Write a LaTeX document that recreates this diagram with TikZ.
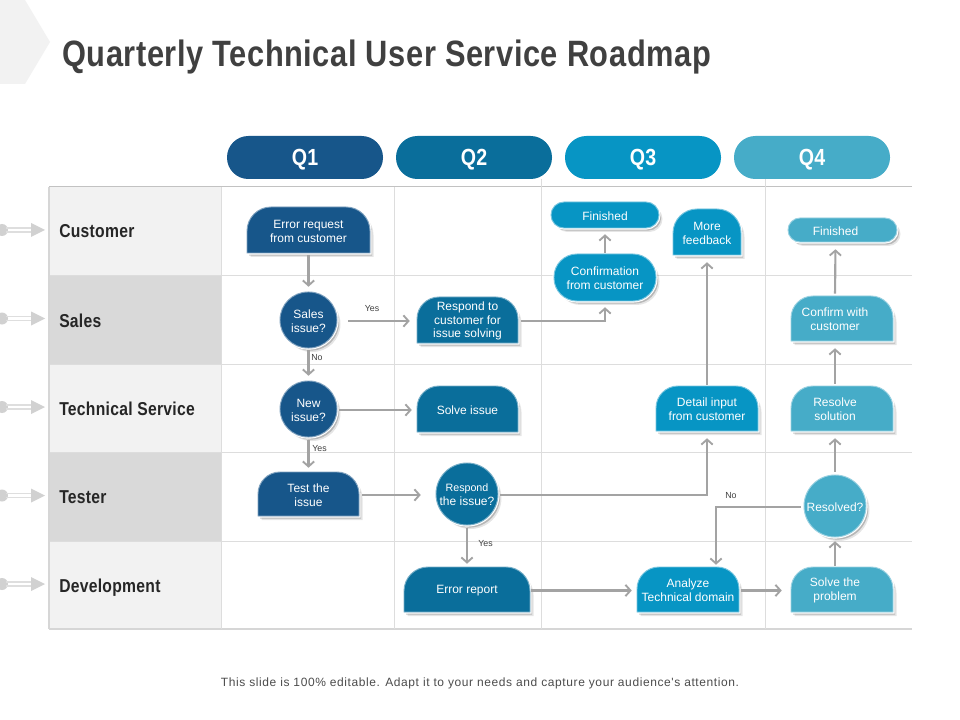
\documentclass[tikz,border=0pt]{standalone}
\usepackage{fontspec}
\setmainfont{Liberation Sans}
\newfontfamily\condf[FakeStretch=0.84,LetterSpace=1.5]{Liberation Sans}
\newfontfamily\footf[LetterSpace=5]{Liberation Sans}
\usetikzlibrary{arrows.meta,calc}
\definecolor{qa}{HTML}{17568A}
\definecolor{qb}{HTML}{0A6E9B}
\definecolor{qc}{HTML}{0795C4}
\definecolor{qd}{HTML}{46ACC8}
\definecolor{gridc}{HTML}{DDDDDD}
\definecolor{conc}{HTML}{A3A3A3}
\tikzset{
  x=0.75pt,y=-0.75pt,
  conn/.style={draw=conc,line width=1.6pt,-{Straight Barb[length=3.8pt,width=8.5pt,line width=1.4pt]}},
  gap/.style={shorten >=#1*0.75pt},
  sgap/.style={shorten <=#1*0.75pt},
  gridl/.style={draw=gridc,line width=0.75pt},
  celltxt/.style={text=white,font=\fontsize{9}{10.4}\selectfont,align=center,inner sep=0pt,yshift=-0.75pt},
  smalltxt/.style={text=black!75,font=\fontsize{6.6}{8}\selectfont,inner sep=0pt},
  rowtxt/.style={anchor=base west,text=black!85,font=\condf\bfseries\fontsize{14}{16}\selectfont,inner sep=0pt},
  qtxt/.style={anchor=base,text=white,font=\condf\bfseries\fontsize{17.5}{20}\selectfont,inner sep=0pt},
}
\def\tdx{0}
% name, x1,y1,x2,y2, top radius, bottom radius, colour, text
\newcommand{\flowshape}[9]{%
  \pgfmathsetmacro{\flcy}{(#3+#5)/2}%
  \pgfmathsetmacro{\flcx}{(#2+#4)/2}%
  \pgfmathsetmacro{\flnx}{\flcx+\tdx}%
  \pgfmathsetmacro{\flwd}{(#4-#2)*0.75}%
  \pgfmathsetmacro{\flhg}{(#5-#3)*0.75}%
  \def\flowpath{(#2,#5-#7) -- (#2,#3+#6)
    .. controls (#2,#3+0.4477*#6) and (#2+0.4477*#6,#3) .. (#2+#6,#3)
    -- (#4-#6,#3)
    .. controls (#4-0.4477*#6,#3) and (#4,#3+0.4477*#6) .. (#4,#3+#6)
    -- (#4,#5-#7)
    .. controls (#4,#5-0.4477*#7) and (#4-0.4477*#7,#5) .. (#4-#7,#5)
    -- (#2+#7,#5)
    .. controls (#2+0.4477*#7,#5) and (#2,#5-0.4477*#7) .. (#2,#5-#7) -- cycle}%
  \begin{scope}[shift={(3.5,4)}]\fill[black,opacity=0.10]\flowpath;\end{scope}%
  \begin{scope}[shift={(2.2,2.6)}]\fill[black,opacity=0.20]\flowpath;\end{scope}%
  \draw[white,line width=2.4pt,fill=white]\flowpath;%
  \draw[#8!55!white,line width=0.7pt,fill=#8]\flowpath;%
  \node[celltxt,minimum width=\flwd pt,minimum height=\flhg pt] (#1) at (\flnx,\flcy) {#9};%
}
\begin{document}
\begin{tikzpicture}
\useasboundingbox (0,0) rectangle (960,720);
\fill[white] (0,0) rectangle (960,720);
% corner tab
\fill[black!5] (0,0) -- (25,0) -- (50,42) -- (25,84) -- (0,84) -- cycle;
\node[anchor=base west,inner sep=0pt,text=black!75,font=\condf\bfseries\fontsize{27.5}{30}\selectfont] (title) at (62,67) {Quarterly Technical User Service Roadmap};
% rows
\fill[black!5]  (49,187) rectangle (221,276);
\fill[black!15] (49,276) rectangle (221,364);
\fill[black!5]  (49,364) rectangle (221,452);
\fill[black!15] (49,452) rectangle (221,541);
\fill[black!5]  (49,541) rectangle (221,629);
\foreach \yy in {276,364,452,541}{\draw[gridl] (49,\yy) -- (912,\yy);}
\draw[draw=black!24,line width=0.75pt] (49,187) -- (912,187);
\draw[draw=black!16,line width=1.1pt] (49,629) -- (912,629);
\draw[draw=black!16,line width=0.9pt] (49,187) -- (49,629);
\draw[gridl] (221,187) -- (221,629);
\draw[gridl] (394,187) -- (394,629);
\draw[gridl] (541,179) -- (541,629);
\draw[gridl] (765,179) -- (765,629);
% side markers
\foreach \yy in {230,318.5,407,495.5,584}{
  \fill[black!18] (2,\yy) circle[radius=6];
  \draw[black!13,line width=0.9pt] (6,\yy-2) -- (32,\yy-2);
  \draw[black!13,line width=0.9pt] (6,\yy+2) -- (32,\yy+2);
  \fill[black!18] (31,\yy-7) -- (45,\yy) -- (31,\yy+7) -- cycle;
}
\node[rowtxt] (r1) at (59,238) {Customer};
\node[rowtxt] (r2) at (59,327) {Sales};
\node[rowtxt] (r3) at (59,415) {Technical Service};
\node[rowtxt] (r4) at (59,503) {Tester};
\node[rowtxt] (r5) at (59,592) {Development};
% quarter pills
\fill[qa,rounded corners=16pt] (227,136) rectangle (383,179);
\fill[qb,rounded corners=16pt] (396,136) rectangle (552,179);
\fill[qc,rounded corners=16pt] (565,136) rectangle (721,179);
\fill[qd,rounded corners=16pt] (734,136) rectangle (890,179);
\node[qtxt] (q1) at (305,166) {Q1};
\node[qtxt] (q2) at (474,166) {Q2};
\node[qtxt] (q3) at (643,166) {Q3};
\node[qtxt] (q4) at (812,166) {Q4};
% flow shapes
\flowshape{err}{247}{207}{370}{253}{24}{0}{qa}{Error request\\from customer}
\flowshape{sal}{280}{292}{337}{348}{28}{28}{qa}{Sales\\issue?}
\flowshape{new}{280}{381}{337}{437}{28}{28}{qa}{New\\issue?}
\flowshape{tst}{258}{472}{359}{516}{22}{0}{qa}{Test the\\issue}
\flowshape{rsp}{417}{297}{518}{343}{22}{0}{qb}{Respond to\\customer for\\issue solving}
\flowshape{sol}{417}{386}{518}{432}{22}{0}{qb}{Solve issue}
\flowshape{rsi}{436}{463}{498}{525}{31}{31}{qb}{\fontsize{8}{9.6}\selectfont Respond\\the issue?}
\flowshape{rep}{404}{567}{530}{612}{24}{0}{qb}{Error report}
\flowshape{fin}{551}{202}{659}{228}{13}{13}{qc}{Finished}
\flowshape{cnf}{554}{254}{656}{301}{23}{23}{qc}{Confirmation\\from customer}
\flowshape{mor}{673}{209}{741}{255}{24}{0}{qc}{More\\feedback}
\flowshape{det}{656}{386}{758}{431}{22}{0}{qc}{Detail input\\from customer}
\flowshape{ana}{637}{567}{739}{612}{22}{0}{qc}{Analyze\\Technical domain}
\flowshape{rsd}{804}{475}{866}{537}{31}{31}{qd}{Resolved?}
\def\tdx{-7}
\flowshape{fiq}{788}{218}{897}{242}{12}{12}{qd}{Finished}
\flowshape{cfm}{791}{296}{893}{341}{22}{0}{qd}{Confirm with\\customer}
\flowshape{rsv}{791}{386}{893}{431}{22}{0}{qd}{Resolve\\solution}
\flowshape{slv}{791}{567}{893}{612}{22}{0}{qd}{Solve the\\problem}
\def\tdx{0}
% connectors
\draw[conn,sgap=1,gap=6] (err.south) -- (sal.north);
\draw[conn,sgap=11,gap=7] (sal.east) -- (rsp.west);
\draw[conn,sgap=1,gap=6] (sal.south) -- (new.north);
\draw[conn,sgap=2,gap=5] (new.east) -- (sol.west);
\draw[conn,sgap=2,gap=5] (new.south) -- (tst.north);
\draw[conn,sgap=3,gap=15] (tst.east) -- (rsi.west);
\draw[conn,sgap=2,gap=4] (rsi.south) -- (rep.north);
\draw[conn,sgap=2,gap=6] (rsi.east) -| (det.south);
\draw[conn,sgap=3,gap=5] (rsp.east) -| (cnf.south);
\draw[conn,sgap=2,gap=5] (cnf.north) -- (fin.south);
\draw[conn,sgap=2,gap=6] (det.north) -- (mor.south);
\draw[conn,sgap=1,gap=5] (rep.east) -- (ana.west);
\draw[conn,sgap=2,gap=2] (ana.east) -- (slv.west);
\draw[conn,sgap=2,gap=3] (slv.north) -- (rsd.south);
\draw[conn,sgap=4,gap=6] (rsd.north) -- (rsv.south);
\draw[conn,sgap=3,gap=6] (rsv.north) -- (cfm.south);
\draw[conn,sgap=3,gap=6] (cfm.north) -- (fiq.south);
\draw[conn,sgap=3,gap=3] (rsd.west) -| ([xshift=21pt]ana.north);
% labels
\node[smalltxt] (l1) at (372,309) {Yes};
\node[smalltxt] (l2) at (317,358) {No};
\node[smalltxt] (l3) at (319.5,449) {Yes};
\node[smalltxt] (l4) at (485.5,544) {Yes};
\node[smalltxt] (l5) at (731,496) {No};
\node[inner sep=0pt,text=black!70,font=\footf\fontsize{9}{11}\selectfont] (foot) at (480,683) {This slide is 100\% editable. Adapt it to your needs and capture your audience's attention.};
\end{tikzpicture}
\end{document}
